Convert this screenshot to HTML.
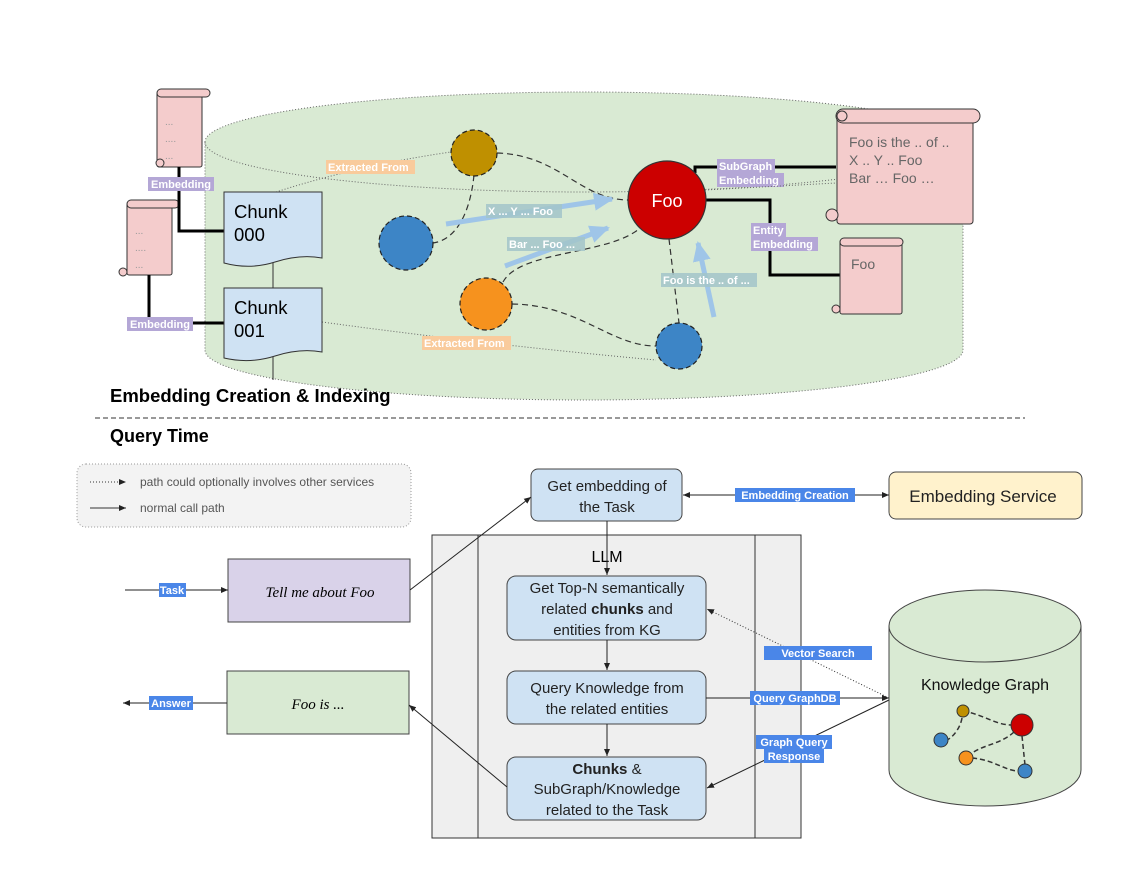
<!DOCTYPE html>
<html><head><meta charset="utf-8"><style>
html,body{margin:0;padding:0;background:#fff;}
svg{display:block;font-family:"Liberation Sans",sans-serif;}
</style></head><body>
<svg width="1144" height="886" viewBox="0 0 1144 886" xmlns="http://www.w3.org/2000/svg">
<defs>
<marker id="ab" markerWidth="8" markerHeight="8" refX="7" refY="4" orient="auto" markerUnits="userSpaceOnUse"><path d="M0,1 L7,4 L0,7 Z" fill="#222"/></marker>
<marker id="lb" markerWidth="22" markerHeight="22" refX="18" refY="11" orient="auto" markerUnits="userSpaceOnUse"><path d="M0,2 L20,11 L0,20 Z" fill="#9fc5e8"/></marker>
</defs>

<!-- Top cylinder -->
<path d="M205,142 A379,50 0 0 1 963,142 L963,350 A379,50 0 0 1 205,350 Z" fill="#d9ead3" stroke="#666" stroke-width="1" stroke-dasharray="1,2"/>
<path d="M205,142 A379,50 0 0 0 963,142" fill="none" stroke="#666" stroke-width="1" stroke-dasharray="1,2"/>

<!-- dotted extracted-from lines -->
<path d="M276,192 Q360,165 451,152" fill="none" stroke="#666" stroke-dasharray="1,2"/>
<path d="M322,322 Q490,345 656,360" fill="none" stroke="#666" stroke-dasharray="1,2"/>

<!-- scrolls left -->
<g stroke="#333" stroke-width="1" fill="#f4cccc">
<rect x="157" y="92" width="45" height="75" rx="2"/>
<rect x="157" y="89" width="53" height="8" rx="4"/>
<circle cx="160" cy="163" r="4"/>
<rect x="127" y="203" width="45" height="72" rx="2"/>
<rect x="127" y="200" width="52" height="8" rx="4"/>
<circle cx="123" cy="272" r="4"/>
</g>
<g fill="#999" font-size="10"><text x="165" y="125">...</text><text x="165" y="142">....</text><text x="165" y="159">...</text>
<text x="135" y="234">...</text><text x="135" y="251">....</text><text x="135" y="268">...</text></g>

<!-- embedding connectors -->
<path d="M179,167 L179,231 L224,231" fill="none" stroke="#000" stroke-width="3"/>
<path d="M149,275 L149,317" fill="none" stroke="#000" stroke-width="3"/>
<path d="M193,323 L224,323" fill="none" stroke="#000" stroke-width="3"/>
<rect x="148" y="177" width="66" height="14" fill="#b4a7d6"/>
<text x="181" y="188" font-size="11" fill="#fff" font-weight="bold" text-anchor="middle">Embedding</text>
<rect x="127" y="317" width="66" height="14" fill="#b4a7d6"/>
<text x="160" y="328" font-size="11" fill="#fff" font-weight="bold" text-anchor="middle">Embedding</text>

<!-- chunks -->
<line x1="273" y1="262" x2="273" y2="288" stroke="#333"/>
<line x1="273" y1="356" x2="273" y2="380" stroke="#333"/>
<path d="M224,192 L322,192 L322,258 Q300,254 275,262 Q250,270 224,263 Z" fill="#cfe2f3" stroke="#333"/>
<path d="M224,288 L322,288 L322,352 Q300,348 275,356 Q250,364 224,358 Z" fill="#cfe2f3" stroke="#333"/>
<g font-size="18.5" fill="#000"><text x="234" y="218">Chunk</text><text x="234" y="241">000</text>
<text x="234" y="314">Chunk</text><text x="234" y="337">001</text></g>

<!-- dashed edges -->
<g fill="none" stroke="#333" stroke-width="1.2" stroke-dasharray="6,4">
<path d="M497,153 C560,155 580,200 629,200"/>
<path d="M474,175 C470,215 455,240 433,243"/>
<path d="M503,282 C520,250 610,255 640,228"/>
<path d="M512,304 C580,305 610,346 656,346"/>
<path d="M669,239 L679,323"/>
</g>

<!-- light blue arrows -->
<g stroke="#9fc5e8" stroke-width="5" fill="none">
<line x1="446" y1="224" x2="612" y2="199" marker-end="url(#lb)"/>
<line x1="505" y1="266" x2="608" y2="228" marker-end="url(#lb)"/>
<line x1="714" y1="317" x2="698" y2="243" marker-end="url(#lb)"/>
</g>
<g font-size="11" font-weight="bold" fill="#fff">
<rect x="486" y="204" width="76" height="14" fill="#a2c4c9" opacity="0.85"/><text x="488" y="215">X ... Y ... Foo</text>
<rect x="507" y="237" width="78" height="14" fill="#a2c4c9" opacity="0.85"/><text x="509" y="248">Bar ... Foo ...</text>
<rect x="661" y="273" width="96" height="14" fill="#a2c4c9" opacity="0.85"/><text x="663" y="284">Foo is the .. of ...</text>
<rect x="326" y="160" width="89" height="14" fill="#f9cb9c"/><text x="328" y="171">Extracted From</text>
<rect x="422" y="336" width="89" height="14" fill="#f9cb9c"/><text x="424" y="347">Extracted From</text>
</g>

<!-- circles -->
<g stroke="#222" stroke-width="1.2" stroke-dasharray="5,3">
<circle cx="474" cy="153" r="23" fill="#bf9000"/>
<circle cx="406" cy="243" r="27" fill="#3d85c6"/>
<circle cx="486" cy="304" r="26" fill="#f6921e"/>
<circle cx="679" cy="346" r="23" fill="#3d85c6"/>
</g>
<!-- Foo lines -->
<path d="M695,173 L695,167 L836,167" fill="none" stroke="#000" stroke-width="3"/>
<path d="M705,200 L770,200 L770,275 L840,275" fill="none" stroke="#000" stroke-width="3"/>
<circle cx="667" cy="200" r="39" fill="#cc0000" stroke="#333" stroke-width="1.2"/>
<text x="667" y="207" font-size="18" fill="#fff" text-anchor="middle">Foo</text>
<rect x="717" y="159" width="58" height="14" fill="#b4a7d6"/>
<rect x="717" y="173" width="67" height="14" fill="#b4a7d6"/>
<g font-size="11" font-weight="bold" fill="#fff"><text x="719" y="170">SubGraph</text><text x="719" y="184">Embedding</text></g>
<path d="M705,190 L836,183" fill="none" stroke="#666" stroke-dasharray="1,2"/>
<rect x="751" y="223" width="35" height="14" fill="#b4a7d6"/>
<rect x="751" y="237" width="67" height="14" fill="#b4a7d6"/>
<g font-size="11" font-weight="bold" fill="#fff"><text x="753" y="234">Entity</text><text x="753" y="248">Embedding</text></g>

<!-- right scrolls -->
<g stroke="#333" stroke-width="1" fill="#f4cccc">
<rect x="837" y="112" width="136" height="112" rx="3"/>
<rect x="836" y="109" width="144" height="14" rx="7"/>
<circle cx="842" cy="116" r="5"/>
<circle cx="832" cy="215" r="6"/>
<rect x="840" y="240" width="62" height="74" rx="2"/>
<rect x="840" y="238" width="63" height="8" rx="4"/>
<circle cx="836" cy="309" r="4"/>
</g>
<g font-size="14" fill="#666"><text x="849" y="147">Foo is the .. of ..</text><text x="849" y="165">X .. Y .. Foo</text><text x="849" y="183">Bar … Foo …</text>
<text x="851" y="269">Foo</text></g>

<!-- section titles -->
<text x="110" y="402" font-size="18.5" font-weight="bold" fill="#000">Embedding Creation &amp; Indexing</text>
<line x1="95" y1="418" x2="1025" y2="418" stroke="#333" stroke-dasharray="5,3"/>
<text x="110" y="442" font-size="18" font-weight="bold" fill="#000">Query Time</text>

<!-- legend -->
<rect x="77" y="464" width="334" height="63" rx="9" fill="#f3f3f3" stroke="#999" stroke-dasharray="1,2"/>
<line x1="90" y1="482" x2="126" y2="482" stroke="#333" stroke-dasharray="1,2" marker-end="url(#ab)"/>
<line x1="90" y1="508" x2="126" y2="508" stroke="#333" marker-end="url(#ab)"/>
<text x="140" y="486" font-size="12" fill="#555">path could optionally involves other services</text>
<text x="140" y="512" font-size="12" fill="#555">normal call path</text>

<!-- LLM container -->
<rect x="432" y="535" width="369" height="303" fill="#efefef" stroke="#333"/>
<line x1="478" y1="535" x2="478" y2="838" stroke="#333"/>
<line x1="755" y1="535" x2="755" y2="838" stroke="#333"/>
<text x="607" y="562" font-size="16" text-anchor="middle">LLM</text>

<!-- task / answer boxes -->
<rect x="228" y="559" width="182" height="63" fill="#d9d2e9" stroke="#444"/>
<text x="320" y="597" font-size="15" font-style="italic" text-anchor="middle" font-family="'Liberation Serif',serif">Tell me about Foo</text>
<rect x="227" y="671" width="182" height="63" fill="#d9ead3" stroke="#444"/>
<text x="318" y="709" font-size="15" font-style="italic" text-anchor="middle" font-family="'Liberation Serif',serif">Foo is ...</text>
<line x1="125" y1="590" x2="228" y2="590" stroke="#222" marker-end="url(#ab)"/>
<rect x="159" y="583" width="27" height="14" fill="#4a86e8"/>
<text x="172" y="594" font-size="11" font-weight="bold" fill="#fff" text-anchor="middle">Task</text>
<line x1="227" y1="703" x2="123" y2="703" stroke="#222" marker-end="url(#ab)"/>
<rect x="149" y="696" width="44" height="14" fill="#4a86e8"/>
<text x="171" y="707" font-size="11" font-weight="bold" fill="#fff" text-anchor="middle">Answer</text>

<!-- flow boxes -->
<g fill="#cfe2f3" stroke="#444">
<rect x="531" y="469" width="151" height="52" rx="7"/>
<rect x="507" y="576" width="199" height="64" rx="9"/>
<rect x="507" y="671" width="199" height="53" rx="9"/>
<rect x="507" y="757" width="199" height="63" rx="9"/>
</g>
<rect x="889" y="472" width="193" height="47" rx="7" fill="#fff2cc" stroke="#444"/>
<g font-size="15" fill="#222" text-anchor="middle">
<text x="607" y="491">Get embedding of</text><text x="607" y="512">the Task</text>
<text x="607" y="593">Get Top-N semantically</text><text x="607" y="614">related <tspan font-weight="bold">chunks</tspan> and</text><text x="607" y="635">entities from KG</text>
<text x="607" y="693">Query Knowledge from</text><text x="607" y="714">the related entities</text>
<text x="607" y="774" font-weight="bold">Chunks <tspan font-weight="normal">&amp;</tspan></text><text x="607" y="794">SubGraph/Knowledge</text><text x="607" y="815">related to the Task</text>
<text x="983" y="502" font-size="17">Embedding Service</text>
</g>

<!-- connectors -->
<line x1="410" y1="590" x2="531" y2="497" stroke="#222" marker-end="url(#ab)"/>
<line x1="507" y1="787" x2="409" y2="705" stroke="#222" marker-end="url(#ab)"/>
<line x1="607" y1="521" x2="607" y2="575" stroke="#222" marker-end="url(#ab)"/>
<line x1="607" y1="640" x2="607" y2="670" stroke="#222" marker-end="url(#ab)"/>
<line x1="607" y1="724" x2="607" y2="756" stroke="#222" marker-end="url(#ab)"/>
<line x1="700" y1="495" x2="889" y2="495" stroke="#222" marker-end="url(#ab)"/>
<line x1="750" y1="495" x2="683" y2="495" stroke="#222" marker-end="url(#ab)"/>
<line x1="889" y1="698" x2="707" y2="609" stroke="#333" stroke-dasharray="1,2" marker-end="url(#ab)"/>
<line x1="706" y1="698" x2="889" y2="698" stroke="#222" marker-end="url(#ab)"/>
<line x1="889" y1="700" x2="707" y2="788" stroke="#222" marker-end="url(#ab)"/>
<g font-size="11" font-weight="bold" fill="#fff" text-anchor="middle">
<rect x="735" y="488" width="120" height="14" fill="#4a86e8"/><text x="795" y="499">Embedding Creation</text>
<rect x="764" y="646" width="108" height="14" fill="#4a86e8"/><text x="818" y="657">Vector Search</text>
<rect x="750" y="691" width="90" height="14" fill="#4a86e8"/><text x="795" y="702">Query GraphDB</text>
<rect x="756" y="735" width="76" height="14" fill="#4a86e8"/><text x="794" y="746">Graph Query</text>
<rect x="764" y="749" width="60" height="14" fill="#4a86e8"/><text x="794" y="760">Response</text>
</g>

<!-- KG cylinder -->
<path d="M889,626 A96,36 0 0 1 1081,626 L1081,770 A96,36 0 0 1 889,770 Z" fill="#d9ead3" stroke="#444"/>
<path d="M889,626 A96,36 0 0 0 1081,626" fill="none" stroke="#444"/>
<text x="985" y="690" font-size="16" text-anchor="middle" fill="#111">Knowledge Graph</text>
<g fill="none" stroke="#333" stroke-width="1.5" stroke-dasharray="5,3">
<path d="M963,711 C985,715 995,725 1012,725"/>
<path d="M962,718 C960,730 950,740 946,740"/>
<path d="M1014,732 C1000,745 980,745 970,755"/>
<path d="M972,758 C995,760 1005,771 1019,771"/>
<path d="M1022,736 L1025,765"/>
</g>
<g stroke="#333" stroke-width="1">
<circle cx="963" cy="711" r="6" fill="#bf9000"/>
<circle cx="1022" cy="725" r="11" fill="#cc0000"/>
<circle cx="941" cy="740" r="7" fill="#3d85c6"/>
<circle cx="966" cy="758" r="7" fill="#f6921e"/>
<circle cx="1025" cy="771" r="7" fill="#3d85c6"/>
</g>
</svg>
</body></html>
